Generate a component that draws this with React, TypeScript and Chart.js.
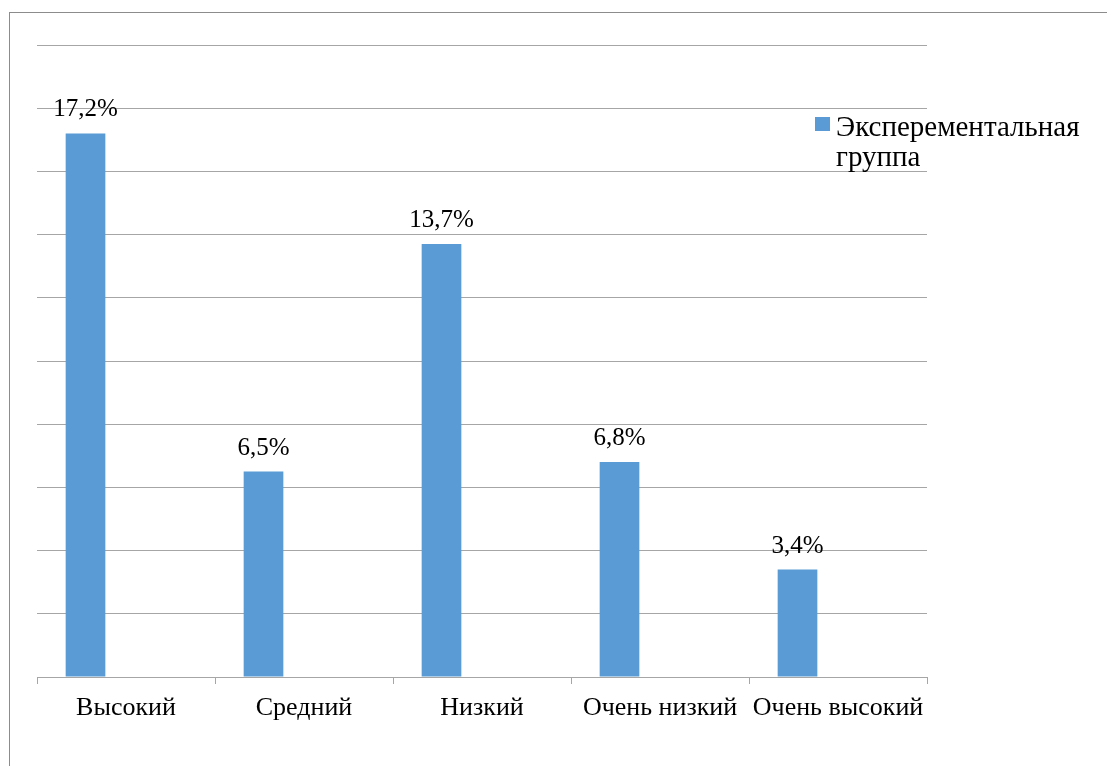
import React, { useEffect, useRef } from "react";
import Chart from "chart.js/auto";

const categories = ["Высокий", "Средний", "Низкий", "Очень низкий", "Очень высокий"];
const experimentalValues = [17.2, 6.5, 13.7, 6.8, 3.4];
const secondSeriesValues = [null, null, null, null, null];
const legendLines = ["Эксперементальная", "группа"];
const yMin = 0;
const yMax = 20;
const yStep = 2;

const FONT = "'Liberation Serif'";
const BLUE = "#5B9BD5";
const GRID = "#a6a6a6";

const fmt = (v: number) => v.toFixed(1).replace(".", ",") + "%";

const framePlugin = {
  id: "frame",
  beforeDraw(chart: any) {
    const ctx = chart.ctx;
    ctx.save();
    ctx.fillStyle = "#ffffff";
    ctx.fillRect(0, 0, chart.width, chart.height);
    ctx.strokeStyle = "#8c8c8c";
    ctx.lineWidth = 1;
    ctx.strokeRect(9.5, 12.5, chart.width + 50, chart.height + 50);
    ctx.restore();
  },
};

const valueLabelPlugin = {
  id: "valueLabels",
  afterDatasetsDraw(chart: any) {
    const ctx = chart.ctx;
    const meta = chart.getDatasetMeta(0);
    ctx.save();
    ctx.font = `25px ${FONT}`;
    ctx.fillStyle = "#000000";
    ctx.textAlign = "center";
    ctx.textBaseline = "alphabetic";
    meta.data.forEach((bar: any, i: number) => {
      const v = experimentalValues[i];
      ctx.fillText(fmt(v), bar.x, bar.y - 17);
    });
    ctx.restore();
  },
};

const legendPlugin = {
  id: "customLegend",
  afterDraw(chart: any) {
    const ctx = chart.ctx;
    const x0 = chart.chartArea.right - 112;
    const y0 = 117;
    ctx.save();
    ctx.fillStyle = BLUE;
    ctx.fillRect(x0, y0, 15, 14);
    ctx.font = `29px ${FONT}`;
    ctx.fillStyle = "#000000";
    ctx.textAlign = "left";
    ctx.textBaseline = "alphabetic";
    legendLines.forEach((line, i) => {
      ctx.fillText(line, x0 + 21, 136 + i * 30);
    });
    ctx.restore();
  },
};

export default function App() {
  const ref = useRef<HTMLCanvasElement | null>(null);

  useEffect(() => {
    document.body.style.margin = "0";
    if (!ref.current) return;
    const chart = new Chart(ref.current, {
      type: "bar",
      data: {
        labels: categories,
        datasets: [
          {
            label: legendLines.join(" "),
            data: experimentalValues,
            backgroundColor: BLUE,
            borderWidth: 0,
            categoryPercentage: 0.91,
            barPercentage: 0.49,
          },
          {
            label: "",
            data: secondSeriesValues as any,
            backgroundColor: "#ED7D31",
            borderWidth: 0,
            categoryPercentage: 0.91,
            barPercentage: 0.49,
          },
        ],
      },
      options: {
        responsive: false,
        animation: false,
        devicePixelRatio: 1,
        layout: { padding: { left: 0, top: 45, right: 180, bottom: 0 } },
        plugins: {
          legend: { display: false },
          tooltip: { enabled: false },
        },
        scales: {
          x: {
            offset: true,
            grid: {
              offset: true,
              drawOnChartArea: false,
              drawTicks: true,
              tickLength: 7,
              color: GRID,
            },
            border: { display: true, color: GRID },
            ticks: {
              font: { family: FONT, size: 26 },
              color: "#000000",
              padding: 9,
              maxRotation: 0,
              autoSkip: false,
            },
            afterFit: (s: any) => {
              s.height = 89;
            },
          },
          y: {
            min: yMin,
            max: yMax,
            ticks: { display: false, stepSize: yStep },
            grid: { color: GRID, drawTicks: false },
            border: { display: false },
            afterFit: (s: any) => {
              s.width = 37;
            },
          },
        },
      },
      plugins: [framePlugin, valueLabelPlugin, legendPlugin],
    });
    return () => chart.destroy();
  }, []);

  return <canvas ref={ref} width={1107} height={766} style={{ display: "block" }} />;
}
